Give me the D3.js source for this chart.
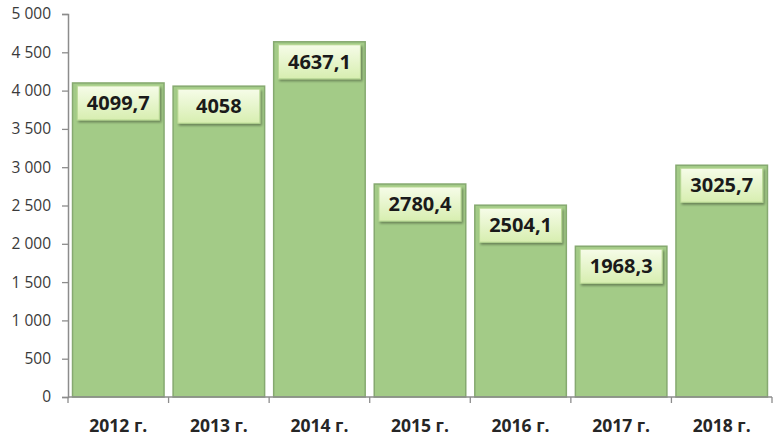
<!DOCTYPE html>
<html><head><meta charset="utf-8">
<script src="https://cdn.jsdelivr.net/npm/d3@7"></script>
<style>body{margin:0;background:#fff}svg{display:block}</style>
</head><body><svg id="c" width="778" height="436"></svg>
<script>
const categories = ["2012 г.","2013 г.","2014 г.","2015 г.","2016 г.","2017 г.","2018 г."];
const values = [4099.7, 4058, 4637.1, 2780.4, 2504.1, 1968.3, 3025.7];
const labels = ["4099,7","4058","4637,1","2780,4","2504,1","1968,3","3025,7"];
const yTicks = [0,500,1000,1500,2000,2500,3000,3500,4000,4500,5000];
const yTickLabels = ["0","500","1 000","1 500","2 000","2 500","3 000","3 500","4 000","4 500","5 000"];

(function(){
const svg = d3.select("#c");
const mLeft = 68, mRight = 772, mTop = 14, mBottom = 397;
const x = d3.scaleBand().domain(categories).range([mLeft, mRight]).paddingInner(0.09).paddingOuter(0.045);
const y = d3.scaleLinear().domain([0,5000]).range([mBottom, mTop]);

const defs = svg.append("defs");
const g1 = defs.append("linearGradient").attr("id","lbl").attr("x1",0).attr("y1",0).attr("x2",0).attr("y2",1);
g1.append("stop").attr("offset","0%").attr("stop-color","#f6fce8");
g1.append("stop").attr("offset","100%").attr("stop-color","#d7eeb0");
const f = defs.append("filter").attr("id","sh").attr("x","-20%").attr("y","-20%").attr("width","150%").attr("height","150%");
f.append("feDropShadow").attr("dx",1.5).attr("dy",2).attr("stdDeviation",1.2).attr("flood-color","#000").attr("flood-opacity",0.35);

// bars
svg.append("g").selectAll("rect").data(values).join("rect")
  .attr("x",(d,i)=>x(categories[i]))
  .attr("y",d=>y(d))
  .attr("width",x.bandwidth())
  .attr("height",d=>mBottom-y(d))
  .attr("fill","#a3cb87")
  .attr("stroke","#86a970")
  .attr("stroke-width",1.5);

// axes
const ya = svg.append("g").attr("transform",`translate(${mLeft},0)`)
  .call(d3.axisLeft(y).tickValues(yTicks).tickFormat((d,i)=>yTickLabels[i]).tickSize(6).tickPadding(11));
ya.select(".domain").attr("stroke","#8c8c8c").attr("stroke-width",1.5);
ya.selectAll(".tick line").attr("stroke","#8c8c8c").attr("stroke-width",1.3);
ya.selectAll("text").attr("font-family","'Open Sans', sans-serif").attr("font-size",15.5).attr("fill","#3a3a3a");

const xa = svg.append("g").attr("transform",`translate(0,${mBottom})`);
xa.append("line").attr("x1",mLeft).attr("x2",mRight).attr("stroke","#8c8c8c").attr("stroke-width",1.5);
const n = categories.length;
xa.selectAll("line.t").data(d3.range(n+1)).join("line").attr("class","t")
  .attr("x1",i=>mLeft+i*(mRight-mLeft)/n).attr("x2",i=>mLeft+i*(mRight-mLeft)/n)
  .attr("y1",0).attr("y2",6).attr("stroke","#8c8c8c").attr("stroke-width",1.3);
xa.selectAll("text").data(categories).join("text")
  .attr("x",d=>x(d)+x.bandwidth()/2).attr("y",35).attr("text-anchor","middle")
  .attr("font-family","'Open Sans', sans-serif").attr("font-weight","bold").attr("font-size",17.5).attr("fill","#262626")
  .text(d=>d);

// labels
const bw = 82, bh = 34;
const lg = svg.append("g").selectAll("g").data(values).join("g")
  .attr("transform",(d,i)=>`translate(${x(categories[i])+x.bandwidth()/2},${y(d)+3})`);
lg.append("rect").attr("x",-bw/2).attr("y",0).attr("width",bw).attr("height",bh)
  .attr("fill","url(#lbl)").attr("stroke","#b8d894").attr("stroke-width",1).attr("filter","url(#sh)");
lg.append("text").attr("x",0).attr("y",bh/2+7).attr("text-anchor","middle")
  .attr("font-family","'Open Sans', sans-serif").attr("font-weight","bold").attr("font-size",20).attr("fill","#1a1a1a")
  .text((d,i)=>labels[i]);
})();
</script></body></html>
